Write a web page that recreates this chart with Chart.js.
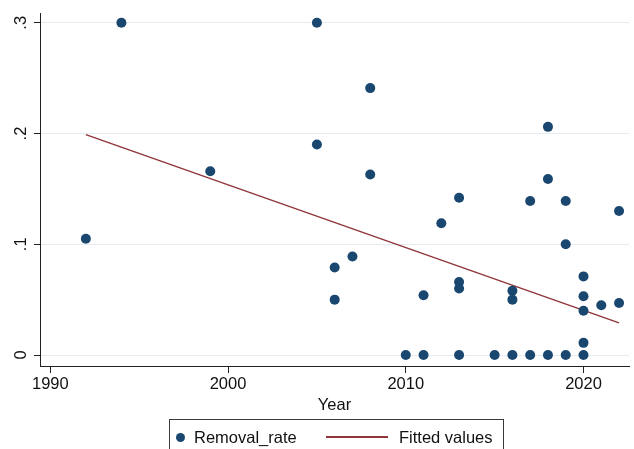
<!DOCTYPE html>
<html>
<head>
<meta charset="utf-8">
<script src="https://cdn.jsdelivr.net/npm/chart.js@4.4.0/dist/chart.umd.min.js"></script>
<style>
  html, body { margin: 0; padding: 0; background: #fff; }
  #wrap { position: relative; width: 634px; height: 449px; overflow: hidden;
          font-family: "Liberation Sans", Arial, sans-serif; color: #111; }
  #legend { position: absolute; left: 169px; top: 419px; width: 333px; height: 40px;
            border: 1px solid #3a3a3a; }
  #legend .dot { position: absolute; left: 5.5px; top: 12.5px; width: 9px; height: 9px;
                 border-radius: 50%; background: #1a476f; }
  #legend .ln { position: absolute; left: 156px; top: 16.3px; width: 62px; height: 1.4px;
                background: #90353b; }
  #legend .txt { position: absolute; top: 0; height: 34px; line-height: 34px; font-size: 16.5px; white-space: nowrap; }
</style>
</head>
<body>
<div id="wrap">
  <canvas id="chart" width="634" height="449"></canvas>
  <div id="legend">
    <span class="dot"></span><span class="txt" id="lab1" style="left:24px"></span>
    <span class="ln"></span><span class="txt" id="lab2" style="left:229px"></span>
  </div>
</div>
<script>
// data
const years = [1992, 1994, 1999, 2005, 2005, 2006, 2006, 2007, 2008, 2008,
               2010, 2011, 2011, 2012, 2013, 2013, 2013, 2013, 2015,
               2016, 2016, 2016, 2017, 2017, 2018, 2018, 2018,
               2019, 2019, 2019, 2020, 2020, 2020, 2020, 2020, 2021, 2022, 2022];
const rates = [0.105, 0.300, 0.166, 0.300, 0.190, 0.079, 0.050, 0.089, 0.241, 0.163,
               0.000, 0.054, 0.000, 0.119, 0.142, 0.066, 0.060, 0.000, 0.000,
               0.058, 0.050, 0.000, 0.139, 0.000, 0.206, 0.159, 0.000,
               0.139, 0.100, 0.000, 0.071, 0.053, 0.040, 0.011, 0.000, 0.045, 0.130, 0.047];
const fitYears = [1992, 2022];
const fitValues = [0.199, 0.029];

const xTicks = [1990, 2000, 2010, 2020];
const yTicks = [0, 0.1, 0.2, 0.3];
const yLabels = ['0', '.1', '.2', '.3'];
const seriesNames = ['Removal_rate', 'Fitted values'];

const FONT = '"Liberation Sans", Arial, sans-serif';
const NAVY = '#1a476f', MAROON = '#90353b';

// rotated y tick labels, Stata style
const yLabelPlugin = {
  id: 'yLabels',
  afterDraw(chart) {
    const ctx = chart.ctx, ys = chart.scales.y;
    ctx.save();
    ctx.font = '16.5px ' + FONT;
    ctx.fillStyle = '#111';
    ctx.textAlign = 'center';
    ctx.textBaseline = 'middle';
    yTicks.forEach((v, i) => {
      ctx.save();
      ctx.translate(21, ys.getPixelForValue(v));
      ctx.rotate(-Math.PI / 2);
      ctx.fillText(yLabels[i], 0, 0);
      ctx.restore();
    });
    ctx.restore();
  }
};

document.getElementById('lab1').textContent = seriesNames[0];
document.getElementById('lab2').textContent = seriesNames[1];

new Chart(document.getElementById('chart').getContext('2d'), {
  type: 'scatter',
  data: {
    datasets: [
      { label: seriesNames[0], data: years.map((x, i) => ({ x, y: rates[i] })),
        pointRadius: 5, pointBackgroundColor: NAVY, pointBorderWidth: 0, showLine: false },
      { label: seriesNames[1], type: 'line', data: fitYears.map((x, i) => ({ x, y: fitValues[i] })),
        borderColor: MAROON, borderWidth: 1.4, pointRadius: 0, fill: false, tension: 0 }
    ]
  },
  options: {
    responsive: false, animation: false, events: [],
    layout: { padding: { left: 0, top: 13, right: 2, bottom: 34 } },
    plugins: { legend: { display: false }, tooltip: { enabled: false } },
    scales: {
      x: {
        type: 'linear', min: 1989.42, max: 2022.56,
        afterBuildTicks: s => { s.ticks = xTicks.map(v => ({ value: v })); },
        afterFit: s => { s.height = 49; },
        grid: { drawOnChartArea: false, drawTicks: true, tickLength: 7, tickColor: '#222' },
        border: { display: true, color: '#222', width: 1 },
        ticks: { color: '#111', padding: 3, callback: v => String(v),
                 font: { family: FONT, size: 16.5, lineHeight: 1 } },
        title: { display: true, text: 'Year', color: '#111', padding: { top: 4, bottom: 0 },
                 font: { family: FONT, size: 16.5, lineHeight: 1.2 } }
      },
      y: {
        type: 'linear', min: -0.0099, max: 0.3088,
        afterBuildTicks: s => { s.ticks = yTicks.map(v => ({ value: v })); },
        afterFit: s => { s.width = 40; },
        grid: { drawOnChartArea: true, color: '#e4ecf1', lineWidth: 1,
                drawTicks: true, tickLength: 6, tickColor: '#222' },
        border: { display: true, color: '#222', width: 1 },
        ticks: { display: false }
      }
    }
  },
  plugins: [yLabelPlugin]
});
</script>
</body>
</html>
